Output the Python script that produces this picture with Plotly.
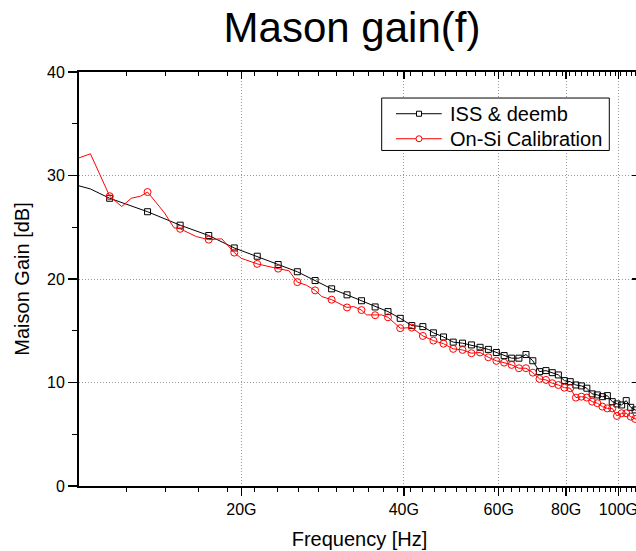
import plotly.graph_objects as go

# ---------------- data (frequency in GHz, gain in dB) ----------------
iss_freq = [10.0, 10.5, 11.4, 13.4, 15.4, 17.4, 19.4, 21.4, 23.4, 25.4, 27.4, 29.4,
            31.4, 33.4, 35.4, 37.4, 39.4, 41.4, 43.4, 45.4, 47.4, 49.4, 51.4, 53.4,
            55.4, 57.4, 59.4, 61.4, 63.4, 65.4, 67.4, 69.4, 71.4, 73.4, 75.4, 77.4,
            79.4, 81.4, 83.4, 85.4, 87.4, 89.4, 91.4, 93.4, 95.4, 97.4, 99.4, 101.4,
            103.4, 105.4, 107.4, 109.4]
iss_gain = [29.0, 28.7, 27.8, 26.5, 25.2, 24.2, 23.0, 22.2, 21.4, 20.7, 19.85, 19.05,
            18.47, 17.9, 17.3, 16.85, 16.2, 15.5, 15.4, 14.8, 14.4, 13.9, 13.8, 13.63,
            13.4, 13.2, 12.9, 12.6, 12.35, 12.35, 12.7, 12.1, 11.05, 11.15, 10.95, 10.73,
            10.18, 10.08, 9.76, 9.67, 9.45, 8.9, 8.8, 8.63, 8.73, 8.15, 7.93, 7.83,
            8.25, 7.6, 7.35, 7.2]

cal_freq = [10.0, 10.5, 11.4, 12.0, 12.5, 13.0, 13.4, 14.4, 15.0, 15.4, 16.5, 17.4,
            18.4, 19.4, 20.0, 21.4, 23.4, 24.5, 25.4, 26.4, 27.4, 28.2, 29.4, 30.5,
            31.4, 32.3, 33.4, 34.1, 35.4, 36.4, 37.4, 38.3, 39.4, 41.4, 43.4, 45.4,
            47.4, 49.4, 51.4, 53.4, 55.4, 57.4, 59.4, 61.4, 63.4, 65.4, 67.4, 69.4,
            71.4, 73.4, 75.4, 77.4, 79.4, 81.4, 83.4, 85.4, 87.4, 89.4, 91.4, 93.4,
            95.4, 97.4, 99.4, 101.4, 103.4, 105.4, 107.4, 109.4]
cal_gain = [31.7, 32.1, 28.0, 27.0, 27.8, 28.0, 28.4, 26.4, 24.95, 24.85, 24.1, 23.8,
            23.88, 22.55, 22.0, 21.46, 21.0, 20.8, 19.7, 19.4, 18.9, 18.3, 18.0, 17.57,
            17.25, 17.34, 17.0, 16.53, 16.5, 16.53, 16.3, 15.83, 15.25, 15.3, 14.5, 14.05,
            13.75, 13.25, 13.15, 12.83, 12.9, 12.44, 12.09, 11.92, 11.7, 11.38, 11.38, 10.95,
            10.35, 10.25, 9.93, 9.76, 9.5, 9.45, 8.54, 8.63, 8.54, 8.15, 8.0, 7.67,
            7.5, 7.5, 6.77, 7.03, 7.03, 6.7, 6.48, 6.3]

series_names = ["ISS & deemb", "On-Si Calibration"]
x_tick_vals = [20, 40, 60, 80, 100]
x_tick_text = ["20G", "40G", "60G", "80G", "100G"]
y_tick_vals = [0, 10, 20, 30, 40]

FONT = "Liberation Sans, Arial, sans-serif"
RED = "#ff0000"

# figure placed at window origin (body margin removed in post_script);
# the right frame of the plot lies just past the 636 px window edge, as in the reference
W, H = 640, 551
PX0, PX1 = 79.0, 640.0      # plot area (x, pixels)
PY0, PY1 = 72.3, 486.0      # plot area (y, pixels)


def px(X):
    return (X - PX0) / (PX1 - PX0)


def py(Y):
    return (PY1 - Y) / (PY1 - PY0)


def marker_subset(freqs, gains, start=11.4, step=2.0, stop=108.0):
    xs, ys = [], []
    for f, g in zip(freqs, gains):
        k = (f - start) / step
        if start - 1e-9 <= f <= stop and abs(k - round(k)) < 1e-6:
            xs.append(f)
            ys.append(g)
    return xs, ys


fig = go.Figure()

styles = [("black", "square-open", 6), (RED, "circle-open", 7)]
for name, fr, gn, (color, sym, msize) in zip(series_names, [iss_freq, cal_freq],
                                             [iss_gain, cal_gain], styles):
    fig.add_trace(go.Scatter(x=fr, y=gn, mode="lines", line=dict(color=color, width=1),
                             name=name, showlegend=False, hoverinfo="skip"))
    mx, my = marker_subset(fr, gn)
    fig.add_trace(go.Scatter(x=mx, y=my, mode="markers", name=name,
                             marker=dict(symbol=sym, size=msize, color=color,
                                         line=dict(width=1, color=color)),
                             showlegend=False))

# dummy trace to activate the mirrored (top / right) axes
fig.add_trace(go.Scatter(x=[None], y=[None], xaxis="x2", yaxis="y2", showlegend=False,
                         hoverinfo="skip"))

x_minor = [10 + 20 / 9 * k for k in range(1, 45)]
x_minor = [v for v in x_minor if v < 110 and all(abs(v - t) > 0.1 for t in x_tick_vals)]
y_minor = [5, 15, 25, 35]

x_range = [1.0, 1.0 + (PX1 - PX0) / 539.4]

grid = dict(showgrid=True, gridcolor="#9a9a9a", gridwidth=1, griddash="1px,2px")

# ---- legend drawn as shapes + text (box, sample lines, markers) ----
shapes = [dict(type="rect", xref="paper", yref="paper",
               x0=px(381.7), x1=px(609.3), y0=py(150.7), y1=py(98.3),
               line=dict(color="black", width=1), fillcolor="white", layer="above")]
annotations = []
for (color, sym, msize), name, rowY in zip(styles, series_names, [114, 139]):
    shapes.append(dict(type="line", xref="paper", yref="paper",
                       x0=px(396), x1=px(441.7), y0=py(rowY), y1=py(rowY),
                       line=dict(color=color, width=1), layer="above"))
    half = msize / 2
    shapes.append(dict(type="rect" if "square" in sym else "circle",
                       xref="paper", yref="paper",
                       xsizemode="pixel", ysizemode="pixel",
                       xanchor=px(419), yanchor=py(rowY),
                       x0=-half + 0.5, x1=half - 0.5, y0=-half + 0.5, y1=half - 0.5,
                       line=dict(color=color, width=1), fillcolor="white", layer="above"))
    annotations.append(dict(text=name, xref="paper", yref="paper", x=px(448), y=py(rowY),
                            xanchor="left", yanchor="middle", showarrow=False,
                            font=dict(size=20, family=FONT, color="black")))

fig.update_layout(
    width=W, height=H,
    margin=dict(l=PX0, r=W - PX1, t=PY0, b=H - PY1, autoexpand=False),
    paper_bgcolor="white", plot_bgcolor="white",
    font=dict(family=FONT, color="black", size=16),
    showlegend=False,
    title=dict(text="Mason gain(f)", font=dict(size=42, family=FONT, color="black"),
               x=352 / W, xanchor="center", xref="container",
               y=1 - 27 / H, yanchor="middle", yref="container"),
    xaxis=dict(type="log", range=x_range, tickvals=x_tick_vals, ticktext=x_tick_text,
               ticks="outside", ticklen=8, tickwidth=1.5, tickcolor="black",
               showline=True, linewidth=2, linecolor="black", zeroline=False,
               tickfont=dict(size=16), automargin=False, ticklabeloverflow="allow",
               minor=dict(tickvals=x_minor, ticks="outside", ticklen=4, tickwidth=1,
                          tickcolor="black", showgrid=False),
               title=dict(text="Frequency [Hz]", font=dict(size=20), standoff=15),
               **grid),
    xaxis2=dict(type="log", range=x_range, overlaying="x", side="top", anchor="y",
                tickvals=x_tick_vals, showticklabels=False,
                ticks="inside", ticklen=7, tickwidth=1.5, tickcolor="black",
                showline=True, linewidth=2, linecolor="black", zeroline=False,
                showgrid=False,
                minor=dict(tickvals=x_minor, ticks="inside", ticklen=4, tickwidth=1,
                           tickcolor="black", showgrid=False)),
    yaxis=dict(range=[0, 40], tickvals=y_tick_vals,
               ticks="outside", ticklen=9, tickwidth=1.5, tickcolor="black",
               showline=True, linewidth=2, linecolor="black", zeroline=False,
               tickfont=dict(size=16), automargin=False,
               minor=dict(tickvals=y_minor, ticks="outside", ticklen=5, tickwidth=1,
                          tickcolor="black", showgrid=False),
               title=dict(text="Maison Gain [dB]", font=dict(size=20), standoff=12),
               **grid),
    yaxis2=dict(range=[0, 40], overlaying="y", side="right", anchor="x",
                tickvals=y_tick_vals, showticklabels=False,
                ticks="inside", ticklen=8, tickwidth=1.5, tickcolor="black",
                showline=True, linewidth=2, linecolor="black",
                zeroline=False, showgrid=False,
                minor=dict(tickvals=y_minor, ticks="inside", ticklen=4, tickwidth=1,
                           tickcolor="black", showgrid=False)),
    shapes=shapes,
    annotations=annotations,
)

fig.write_html(
    "out.html",
    config={"displayModeBar": False, "staticPlot": True},
    post_script=("document.body.style.margin='0';"
                 "document.body.style.overflow='hidden';"
                 "document.documentElement.style.overflow='hidden';"),
)
